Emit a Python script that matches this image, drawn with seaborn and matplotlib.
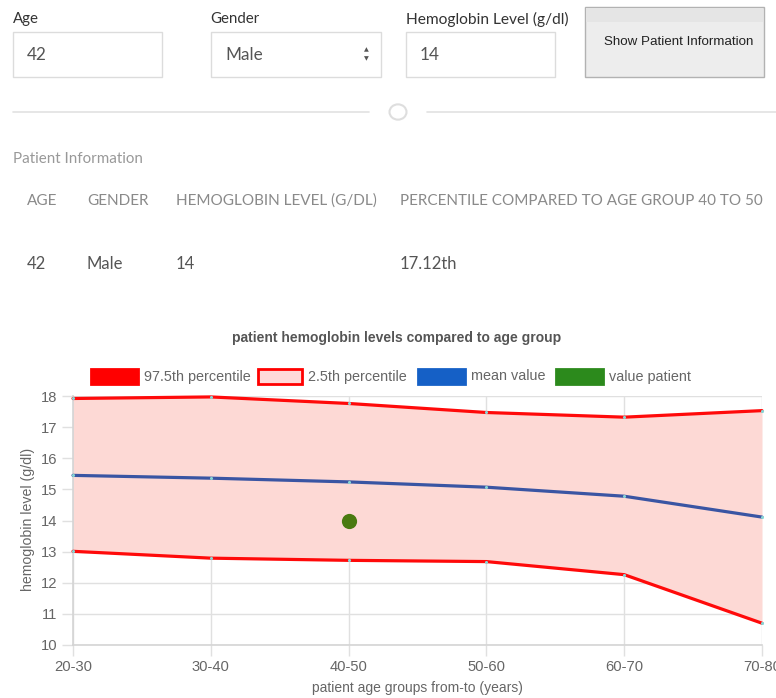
import matplotlib
matplotlib.use("Agg")
import matplotlib.pyplot as plt
from matplotlib.patches import Rectangle, Circle
from matplotlib.lines import Line2D
import seaborn as sns
import pandas as pd

# ---------------- data ----------------
age_groups = ["20-30", "30-40", "40-50", "50-60", "60-70", "70-80"]
p975 = [17.92, 17.97, 17.76, 17.47, 17.32, 17.53]
p025 = [13.01, 12.79, 12.72, 12.68, 12.26, 10.70]
mean_vals = [15.45, 15.36, 15.24, 15.07, 14.78, 14.11]
patient_group = "40-50"
patient_value = 14
y_ticks = [10, 11, 12, 13, 14, 15, 16, 17, 18]
series_names = ["97.5th percentile", "2.5th percentile", "mean value", "value patient"]

form_labels = ["Age", "Gender", "Hemoglobin Level (g/dl)"]
form_values = ["42", "Male", "14"]
button_text = "Show Patient Information"
info_title = "Patient Information"
table_headers = ["AGE", "GENDER", "HEMOGLOBIN LEVEL (G/DL)", "PERCENTILE COMPARED TO AGE GROUP 40 TO 50"]
table_values = ["42", "Male", "14", "17.12th"]
chart_title = "patient hemoglobin levels compared to age group"
x_label = "patient age groups from-to (years)"
y_label = "hemoglobin level (g/dl)"

W, H = 776, 698
sns.set_theme(style="white")
plt.rcParams["font.family"] = ["Lato", "DejaVu Sans"]
SANS = ["Liberation Sans", "DejaVu Sans"]

fig = plt.figure(figsize=(W / 100, H / 100), dpi=100)
fig.patch.set_facecolor("white")

def fx(x):
    return x / W

def fy(y):
    return 1 - y / H

def rect(x0, y0, x1, y1, **kw):
    fig.patches.append(Rectangle((fx(x0), fy(y1)), (x1 - x0) / W, (y1 - y0) / H,
                                 transform=fig.transFigure, **kw))

def txt(x, y, s, **kw):
    kw.setdefault("va", "center")
    kw.setdefault("ha", "left")
    fig.text(fx(x), fy(y), s, **kw)

# ---------------- form ----------------
label_x = [13, 210, 406]
box_x = [(13, 162), (211, 381), (406, 555)]
label_sizes = [10.8, 10.8, 11.2]
for lx, lab, fs in zip(label_x, form_labels, label_sizes):
    txt(lx, 19, lab, fontsize=fs, color="#333333")
for (x0, x1), val in zip(box_x, form_values):
    rect(x0, 32, x1, 77, facecolor="white", edgecolor="#dcdcdc", linewidth=1)
    txt(x0 + 14, 55, val, fontsize=12.3, color="#555555")
txt(366, 50, "▲", fontsize=4.5, color="#555555", ha="center", family="DejaVu Sans")
txt(366, 59, "▼", fontsize=4.5, color="#555555", ha="center", family="DejaVu Sans")

# button
rect(585, 7, 764, 77, facecolor="#ededed", edgecolor="#b2b2b2", linewidth=1)
rect(586, 8, 763, 22, facecolor="#e5e5e5", edgecolor="none")
txt(679, 42, button_text, fontsize=9.6, color="#222222", ha="center", family=SANS)

# divider
fig.lines.append(Line2D([fx(13), fx(369)], [fy(112), fy(112)], transform=fig.transFigure,
                        color="#e2e2e2", linewidth=1.2))
fig.lines.append(Line2D([fx(427), fx(776)], [fy(112), fy(112)], transform=fig.transFigure,
                        color="#e2e2e2", linewidth=1.2))
fig.patches.append(Circle((fx(398), fy(112)), 8.5 / W, transform=fig.transFigure,
                          facecolor="white", edgecolor="#dedede", linewidth=1.5))

# patient information
txt(13, 159, info_title, fontsize=10.9, color="#999999")
col_x = [27, 87, 176, 400]
for cx, h in zip(col_x, table_headers):
    txt(cx, 201, h, fontsize=11, color="#8a8a8a")
for cx, v in zip(col_x, table_values):
    txt(cx, 264, v, fontsize=12, color="#555555")

# ---------------- chart ----------------
ax = fig.add_axes([fx(73), fy(645), (762 - 73) / W, (645 - 396) / H])
ax.set_facecolor("white")
df = pd.DataFrame({"x": list(range(len(age_groups))), "group": age_groups,
                   "p975": p975, "p025": p025, "mean": mean_vals})

ax.set_xlim(0, len(age_groups) - 1)
ax.set_ylim(y_ticks[0], y_ticks[-1])
ax.set_xticks(df["x"])
ax.set_xticklabels(age_groups)
ax.set_yticks(y_ticks)
ax.grid(True, color="#e0e0e0", linewidth=1)
ax.set_axisbelow(True)
for side in ["top", "right"]:
    ax.spines[side].set_visible(False)
for side in ["left", "bottom"]:
    ax.spines[side].set_color("#d4d4d4")
    ax.spines[side].set_linewidth(1.2)
ax.tick_params(axis="both", which="both", length=8, width=1, color="#e0e0e0",
               labelsize=10.6, labelcolor="#666666", pad=3,
               left=True, bottom=True)
for lab in ax.get_xticklabels() + ax.get_yticklabels():
    lab.set_family(SANS)

ax.fill_between(df["x"], df["p025"], df["p975"], color="#fdd9d5", linewidth=0, zorder=1)
sns.lineplot(data=df, x="x", y="p975", ax=ax, color="#ff0a0a", linewidth=2.3,
             zorder=3, legend=False)
sns.lineplot(data=df, x="x", y="p025", ax=ax, color="#ff0a0a", linewidth=2.3,
             zorder=3, legend=False)
sns.lineplot(data=df, x="x", y="mean", ax=ax, color="#3a55a3", linewidth=2.3,
             zorder=3, legend=False)
for col in ["p975", "p025", "mean"]:
    sns.scatterplot(data=df, x="x", y=col, ax=ax, color="#86d4d4", s=5,
                    linewidth=0, zorder=4, legend=False, clip_on=False)
for ln in ax.lines:
    ln.set_clip_on(False)
pdf = pd.DataFrame({"x": [age_groups.index(patient_group)], "y": [patient_value]})
sns.scatterplot(data=pdf, x="x", y="y", ax=ax, color="#4a7a10", s=120,
                linewidth=0, zorder=5, legend=False)

ax.set_xlabel("")
ax.set_ylabel("")
txt(417, 688, x_label, fontsize=10, color="#666666", ha="center", family=SANS)
fig.text(fx(28), fy(519), y_label, fontsize=10.2, color="#666666", ha="center", va="center",
         rotation=90, family=SANS)
txt(397, 338, chart_title, fontsize=10, color="#555555", ha="center", weight="bold",
    family=SANS)

# legend (manual, Chart.js style)
leg_boxes = [(90, 139), (257, 303), (417, 466), (555, 604)]
leg_face = ["#ff0000", "#ffd9d9", "#1560c6", "#2c8a1c"]
leg_edge = ["#ff0000", "#ff0000", "#1560c6", "#2c8a1c"]
for (x0, x1), name, fc, ec in zip(leg_boxes, series_names, leg_face, leg_edge):
    rect(x0 + 1, 369, x1 - 1, 384, facecolor=fc, edgecolor=ec, linewidth=2)
    txt(x1 + 5, 376.5, name, fontsize=10.4, color="#666666", family=SANS)

fig.savefig("out.png", dpi=100, facecolor="white")
